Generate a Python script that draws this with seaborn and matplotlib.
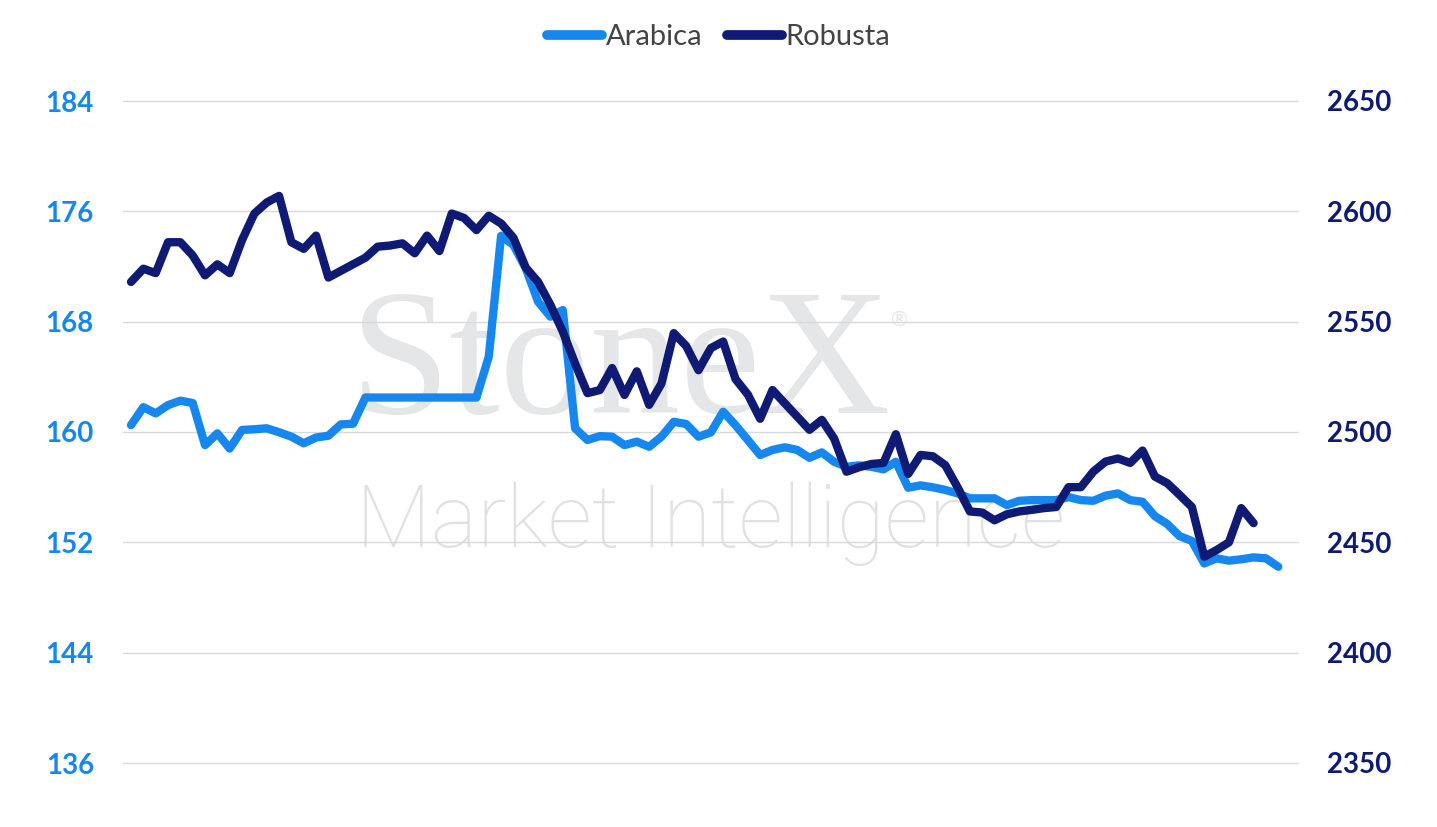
import numpy as np
import pandas as pd
import seaborn as sns
import matplotlib.pyplot as plt

# Valores (Arabica eixo esquerdo, Robusta eixo direito)
arabica = [160.5, 161.8, 161.35, 161.95, 162.27, 162.1, 159.05, 159.9, 158.8, 160.15,
           160.2, 160.27, 159.98, 159.66, 159.18, 159.6, 159.73, 160.55, 160.6, 162.5,
           162.5, 162.5, 162.5, 162.5, 162.5, 162.5, 162.5, 162.5, 162.5, 165.46,
           174.22, 173.56, 171.87, 169.45, 168.36, 168.84, 160.27, 159.42, 159.7, 159.66,
           159.05, 159.3, 158.93, 159.66, 160.74, 160.58, 159.66, 159.97, 161.47, 160.5,
           159.42, 158.33, 158.7, 158.89, 158.7, 158.13, 158.52, 157.84, 157.48, 157.58,
           157.48, 157.29, 157.84, 155.96, 156.13, 155.99, 155.8, 155.55, 155.19, 155.19,
           155.19, 154.7, 155.01, 155.06, 155.06, 155.06, 155.28, 155.06, 155.01, 155.38,
           155.55, 155.06, 154.94, 153.9, 153.33, 152.45, 152.1, 150.47, 150.84, 150.67,
           150.77, 150.91, 150.84, 150.23]

robusta = [2568, 2574, 2572, 2586, 2586, 2580, 2571, 2576, 2572, 2587,
           2599, 2604, 2607, 2586, 2583, 2589, 2570, 2573, 2576, 2579,
           2584, 2584.5, 2585.5, 2581, 2589, 2582, 2599, 2597, 2591.5, 2598,
           2594.5, 2588, 2574.5, 2568, 2557.6, 2545.5, 2531, 2517.6, 2519, 2529,
           2516.8, 2527.5, 2512.3, 2522, 2544.8, 2539, 2528, 2538, 2541, 2524,
           2517, 2506, 2519, 2513, 2507, 2501, 2505.5, 2497, 2482, 2484,
           2485.5, 2486, 2499, 2481, 2489.6, 2489, 2485, 2475, 2464, 2463.5,
           2460, 2462.7, 2464, 2464.7, 2465.5, 2466, 2475, 2475, 2482, 2486.6,
           2488, 2486, 2491.6, 2479.8, 2476.8, 2471.5, 2466, 2443.5, 2446.5, 2450,
           2465.5, 2458.7]

left_ticks = [136, 144, 152, 160, 168, 176, 184]
right_ticks = [2350, 2400, 2450, 2500, 2550, 2600, 2650]

c_arabica = '#1787F0'
c_robusta = '#0E1A74'

df_a = pd.DataFrame({'dia': np.arange(len(arabica)), 'preco': arabica})
df_r = pd.DataFrame({'dia': np.arange(len(robusta)), 'preco': robusta})

sns.set_style('white')
plt.rcParams['font.family'] = ['Lato', 'DejaVu Sans']

fig = plt.figure(figsize=(14.37, 8.27), dpi=100)

# marca d'água (atrás de tudo)
fig.text(0.432, 0.553, 'StoneX', family='Liberation Serif', fontsize=130,
         color='#E5E6E8', ha='center', va='center', zorder=-5)
fig.text(0.626, 0.614, '®', fontsize=15, color='#E5E6E8', ha='center', va='center', zorder=-5)
fig.text(0.4945, 0.367, 'Market Intelligence', family='Roboto', fontweight='light', fontsize=63,
         color='#E0E1E3', ha='center', va='center', zorder=-5)

ax = fig.add_axes([123 / 1437, 1 - 763 / 827, (1298 - 123) / 1437, (763 - 101) / 827])
ax.patch.set_visible(False)
ax2 = ax.twinx()

sns.lineplot(data=df_a, x='dia', y='preco', ax=ax, color=c_arabica, lw=6,
             solid_capstyle='round', solid_joinstyle='round', label='Arabica', legend=False)
sns.lineplot(data=df_r, x='dia', y='preco', ax=ax2, color=c_robusta, lw=6,
             solid_capstyle='round', solid_joinstyle='round', label='Robusta', legend=False)

ax.set_xlim(-0.65, 94.6)
ax.set_ylim(136, 184)
ax2.set_ylim(2350, 2650)
ax.set_yticks(left_ticks)
ax2.set_yticks(right_ticks)
ax.set_xticks([])
ax.set_xlabel('')
ax.set_ylabel('')
ax2.set_ylabel('')
ax.yaxis.grid(True, color='#D9D9D9', lw=1)
for gl in ax.get_ygridlines():
    gl.set_clip_on(False)
ax2.grid(False)
for a in (ax, ax2):
    for s in a.spines.values():
        s.set_visible(False)
ax.tick_params(axis='y', length=0, pad=21, labelsize=20, labelcolor=c_arabica)
ax2.tick_params(axis='y', length=0, pad=21, labelsize=20, labelcolor=c_robusta)
for t in ax.get_yticklabels() + ax2.get_yticklabels():
    t.set_fontweight('bold')

h1, = ax.plot([], [], color=c_arabica, lw=7, solid_capstyle='round')
h2, = ax.plot([], [], color=c_robusta, lw=7, solid_capstyle='round')
fig.legend([h1, h2], ['Arabica', 'Robusta'], loc='center', bbox_to_anchor=(0.5, 1 - 37 / 827),
           ncol=2, frameon=False, fontsize=21, labelcolor='#444444', handlelength=1.9,
           handletextpad=0.1, columnspacing=0.85)

plt.savefig('out.png', dpi=100)
